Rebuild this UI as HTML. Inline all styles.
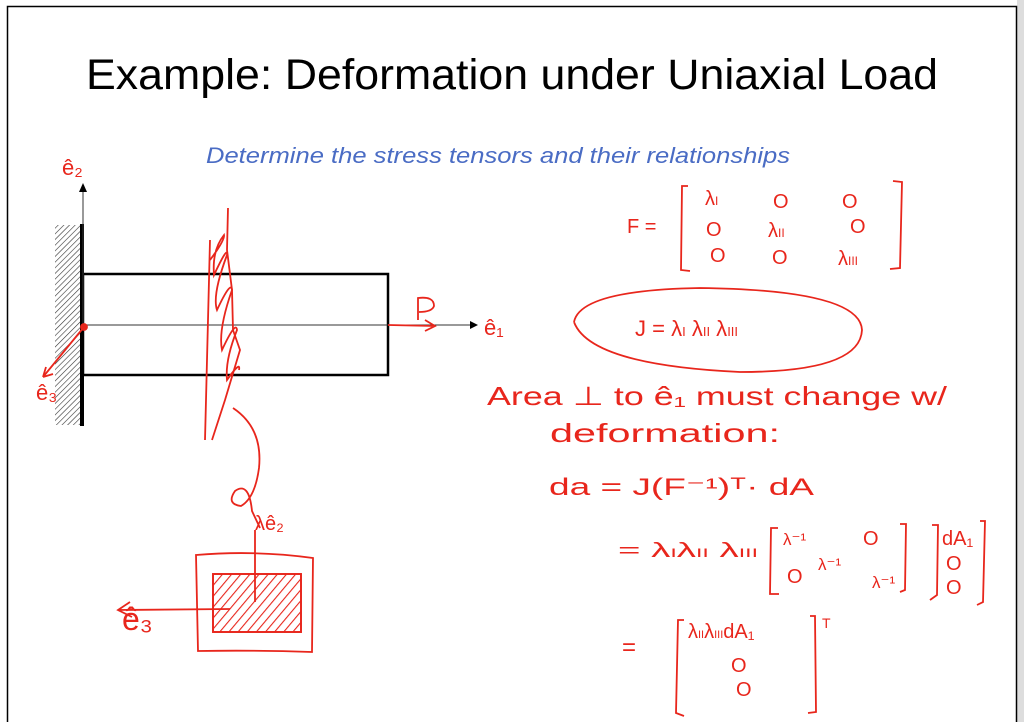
<!DOCTYPE html>
<html><head><meta charset="utf-8"><style>
html,body{margin:0;padding:0;background:#fff}
svg{display:block}
.h{font-family:"Liberation Sans",sans-serif;fill:#e8261c}
</style></head><body>
<svg width="1024" height="722" viewBox="0 0 1024 722" xmlns="http://www.w3.org/2000/svg">
<defs>
<pattern id="hatch" width="4" height="4" patternUnits="userSpaceOnUse" patternTransform="rotate(45)">
<line x1="0" y1="0" x2="0" y2="4" stroke="#333" stroke-width="1.2"/></pattern>
<pattern id="rh" width="7" height="7" patternUnits="userSpaceOnUse" patternTransform="rotate(40)">
<line x1="0" y1="0" x2="0" y2="7" stroke="#e8261c" stroke-width="2.2"/></pattern>
</defs>
<rect x="1017" y="0" width="7" height="722" fill="#ddd"/>
<rect x="7.5" y="6.5" width="1009" height="720" fill="none" stroke="#000" stroke-width="1.5"/>
<text x="512" y="89" text-anchor="middle" font-family="Liberation Sans,sans-serif" font-size="43" textLength="852" lengthAdjust="spacingAndGlyphs">Example: Deformation under Uniaxial Load</text>
<text x="498" y="163" text-anchor="middle" font-family="Liberation Sans,sans-serif" font-style="italic" font-size="22" fill="#4a6cc4" textLength="584" lengthAdjust="spacingAndGlyphs">Determine the stress tensors and their relationships</text>
<rect x="55" y="225" width="26" height="200" fill="url(#hatch)"/>
<line x1="82" y1="224" x2="82" y2="426" stroke="#000" stroke-width="4"/>
<rect x="83" y="274" width="305" height="101" fill="none" stroke="#000" stroke-width="2.5"/>
<line x1="82" y1="325" x2="470" y2="325" stroke="#333" stroke-width="1"/>
<polygon points="470,321 478,325 470,329" fill="#000"/>
<line x1="83" y1="326" x2="83" y2="190" stroke="#333" stroke-width="1"/>
<polygon points="79,192 83,183 87,192" fill="#000"/>
<g stroke="#e8261c" stroke-width="1.8" fill="none">
<circle cx="84" cy="327" r="3" fill="#e8261c"/>
<path d="M84 327 L43 377 M43 377 l3 -10 M43 377 l10 -3"/>
<path d="M388 325 L435 326 M425 320 l10 6 l-10 5"/>
<path d="M418 320 L418 298 q16 -2 16 8 q-2 6 -15 6"/>
<path d="M228 208 L227 250 L232 290 L233 330 L240 350 L225 400 L212 440 M210 240 L205 440"/>
<path d="M210 260 q15 -20 14 -25 q-12 15 -10 40 q14 -30 13 -20 q-15 40 -10 55 q14 -30 15 -20 q-14 40 -10 60 q14 -30 15 -20 q-12 30 -10 50 q14 -20 12 -10"/>
<path d="M233 408 q30 20 26 60 q-4 30 -18 38 q-15 -2 -6 -15 q14 -10 17 20 L260 528"/>
<path d="M196 555 Q255 550 313 558 L312 652 Q255 650 198 651 Z"/>
<rect x="213" y="574" width="88" height="58" fill="url(#rh)"/>
<rect x="213" y="574" width="88" height="58"/>
<path d="M255 602 L255 530 M118 610 L230 609 M130 602 l-12 8 l14 7"/>
<path d="M574 322 Q580 290 700 288 Q860 290 862 330 Q860 372 740 372 Q590 365 574 322"/>
<path d="M688 186 L682 186 L681 270 L690 271 M893 181 L902 182 L900 268 L890 269"/>
<path d="M778 528 L771 528 L770 594 L779 594 M900 524 L906 524 L905 590 L900 592"/>
<path d="M932 525 L938 525 L937 595 L930 600 M980 521 L985 521 L983 602 L977 605"/>
<path d="M684 620 L678 620 L676 713 L684 716 M810 616 L815 616 L816 712 L808 713"/>
</g>
<g class="h" font-size="20">
<text x="62" y="175" font-size="22">ê₂</text>
<text x="484" y="335" font-size="22">ê₁</text>
<text x="36" y="400" font-size="22">ê₃</text>
<text x="255" y="530" font-size="20">λê₂</text>
<text x="122" y="630" font-size="32">ê₃</text>
<text x="627" y="233">F =</text>
<text x="705" y="205">λ<tspan font-size="12">I</tspan></text>
<text x="773" y="208">O</text><text x="842" y="208">O</text>
<text x="706" y="236">O</text><text x="768" y="237">λ<tspan font-size="12">II</tspan></text><text x="850" y="233">O</text>
<text x="710" y="262">O</text><text x="772" y="264">O</text><text x="838" y="265">λ<tspan font-size="12">III</tspan></text>
<text x="635" y="336" font-size="22">J = λ<tspan font-size="13">I</tspan> λ<tspan font-size="13">II</tspan> λ<tspan font-size="13">III</tspan></text>
<text x="487" y="405" font-size="26" textLength="460" lengthAdjust="spacingAndGlyphs">Area ⊥ to ê₁ must change w/</text>
<text x="550" y="442" font-size="26" textLength="230" lengthAdjust="spacingAndGlyphs">deformation:</text>
<text x="549" y="495" font-size="24" textLength="265" lengthAdjust="spacingAndGlyphs">da = J(F⁻¹)ᵀ· dA</text>
<text x="618" y="557" font-size="20" textLength="140" lengthAdjust="spacingAndGlyphs">= λ<tspan font-size="12">I</tspan>λ<tspan font-size="12">II</tspan> λ<tspan font-size="12">III</tspan></text>
<text x="783" y="545" font-size="17">λ⁻¹</text><text x="863" y="545">O</text>
<text x="787" y="583">O</text><text x="818" y="570" font-size="17">λ⁻¹</text><text x="872" y="588" font-size="17">λ⁻¹</text>
<text x="942" y="545">dA₁</text><text x="946" y="570">O</text><text x="946" y="594">O</text>
<text x="622" y="655" font-size="24">=</text>
<text x="688" y="638">λ<tspan font-size="11">II</tspan>λ<tspan font-size="11">III</tspan>dA₁</text>
<text x="822" y="628" font-size="14">T</text>
<text x="731" y="672">O</text><text x="736" y="696">O</text>
</g>
</svg>
</body></html>
